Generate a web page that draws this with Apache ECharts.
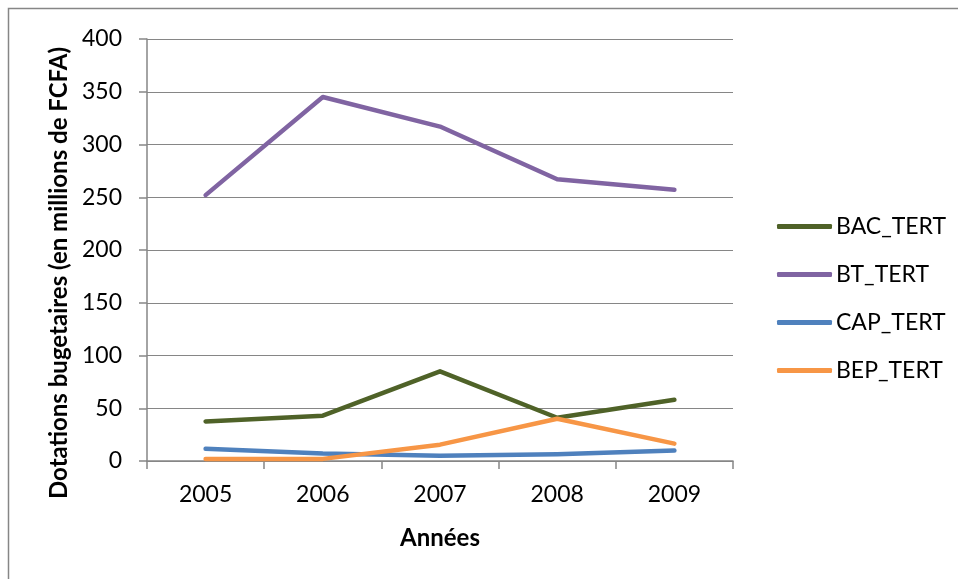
<!DOCTYPE html>
<html>
<head>
<meta charset="utf-8">
<script src="https://cdn.jsdelivr.net/npm/echarts@6/dist/echarts.min.js"></script>
<style>
  html, body { margin: 0; padding: 0; background: #fff; }
  #chart { width: 958px; height: 579px; }
</style>
</head>
<body>
<div id="chart"></div>
<script>
// données
const annees = ['2005', '2006', '2007', '2008', '2009'];
const bacTert = [37.5, 43, 85, 41, 58];
const btTert = [252, 345, 317, 267, 257];
const capTert = [11.5, 7, 5, 6.5, 10];
const bepTert = [2, 2, 15.5, 40, 16.5];
const yTicks = [0, 50, 100, 150, 200, 250, 300, 350, 400];

const chart = echarts.init(document.getElementById('chart'));
const font = 'Lato, "Open Sans", sans-serif';
const grey = '#868686';

function serie(name, data, color) {
    return {
        name: name,
        type: 'line',
        data: data,
        symbol: 'none',
        lineStyle: { width: 4.5, color: color, cap: 'round', join: 'round' },
        itemStyle: { color: color }
    };
}

chart.setOption({
    animation: false,
    textStyle: { fontFamily: font },
    graphic: [{
        type: 'rect',
        z: 100,
        shape: { x: 8.5, y: 8.5, width: 1000, height: 700 },
        style: { fill: 'none', stroke: grey, lineWidth: 1.5 },
        silent: true
    }],
    grid: { left: 147, right: 225, top: 39, bottom: 118 },
    legend: {
        orient: 'vertical',
        left: 772,
        top: 210,
        icon: 'roundRect',
        itemWidth: 55,
        itemHeight: 5,
        itemGap: 25,
        textStyle: { fontSize: 23, color: '#000', fontFamily: font, padding: [0, 0, 0, -1] },
        data: ['BAC_TERT', 'BT_TERT', 'CAP_TERT', 'BEP_TERT']
    },
    xAxis: {
        type: 'category',
        data: annees,
        boundaryGap: true,
        name: 'Années',
        nameLocation: 'middle',
        nameGap: 65,
        nameTextStyle: { fontSize: 24, fontWeight: 'bold', color: '#000' },
        axisLine: { lineStyle: { color: grey, width: 1.5 } },
        axisTick: { show: true, length: 8, alignWithLabel: false, lineStyle: { color: grey, width: 1.5 } },
        axisLabel: { fontSize: 23, color: '#000', margin: 22 }
    },
    yAxis: {
        type: 'value',
        min: 0,
        max: 400,
        interval: 50,
        name: 'Dotations bugetaires (en millions de FCFA)',
        nameLocation: 'middle',
        nameGap: 74,
        nameTextStyle: { fontSize: 24, fontWeight: 'bold', color: '#000', padding: [0, 46, 0, 0] },
        axisLine: { show: true, lineStyle: { color: grey, width: 1.5 } },
        axisTick: { show: true, length: 8, lineStyle: { color: grey, width: 1.5 } },
        axisLabel: {
            fontSize: 23, color: '#000', margin: 25,
            formatter: v => yTicks.includes(v) ? String(v) : ''
        },
        splitLine: { lineStyle: { color: grey, width: 1.2 } }
    },
    series: [
        serie('BAC_TERT', bacTert, '#4F6228'),
        serie('BT_TERT', btTert, '#8064A2'),
        serie('CAP_TERT', capTert, '#4F81BD'),
        serie('BEP_TERT', bepTert, '#F79646')
    ]
});

window.addEventListener('resize', () => chart.resize());
</script>
</body>
</html>
